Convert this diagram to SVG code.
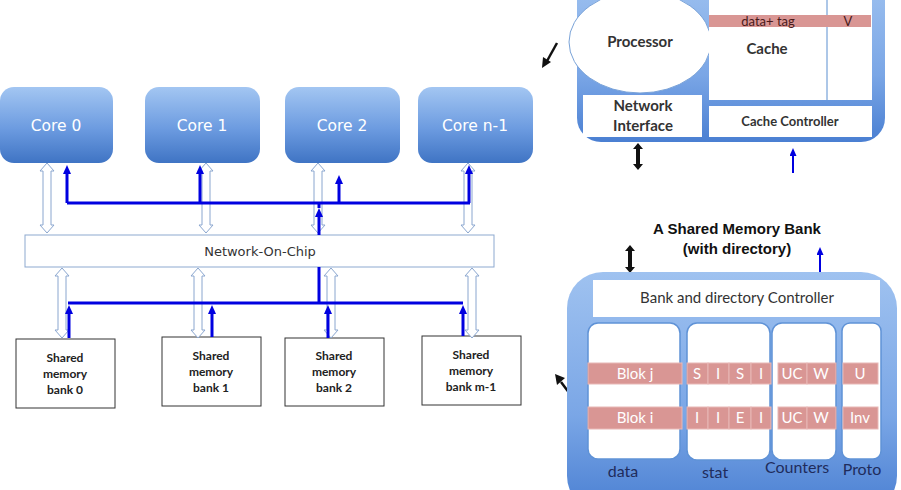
<svg xmlns="http://www.w3.org/2000/svg" width="901" height="490" viewBox="0 0 901 490">
<defs>
  <linearGradient id="gCore" x1="0" y1="0" x2="0" y2="1">
    <stop offset="0" stop-color="#a3c6f2"/>
    <stop offset="0.55" stop-color="#6c9be0"/>
    <stop offset="1" stop-color="#3f74c4"/>
  </linearGradient>
  <linearGradient id="gTile" x1="0" y1="0" x2="0" y2="1">
    <stop offset="0" stop-color="#9fc2f0"/>
    <stop offset="0.6" stop-color="#7aa6e6"/>
    <stop offset="1" stop-color="#4a7fd2"/>
  </linearGradient>
  <path id="hollow" d="M0,0 l7,8 h-3 v54 h3 l-7,8 l-7,-8 h3 v-54 h-3 z" fill="#fff" stroke="#8aa6cf" stroke-width="1"/>
  <marker id="bh" markerWidth="9" markerHeight="8" refX="1" refY="4" orient="auto" markerUnits="userSpaceOnUse">
    <path d="M0,0 L9,4 L0,8 z" fill="#0000e0"/>
  </marker>
  <marker id="bh2" markerWidth="8" markerHeight="7" refX="1" refY="3.5" orient="auto" markerUnits="userSpaceOnUse">
    <path d="M0,0 L8,3.5 L0,7 z" fill="#0000e0"/>
  </marker>
</defs>
<style>
  .core rect{fill:url(#gCore);}
  .core text{font-family:"DejaVu Sans",Verdana,sans-serif;font-size:15.5px;fill:#fff;text-anchor:middle;}
  .bank rect{fill:#fff;stroke:#333;stroke-width:1;}
  .bank text{font-family:Lato,"Open Sans",sans-serif;font-weight:bold;font-size:12px;fill:#222;text-anchor:middle;}
  .blue{stroke:#0000e0;stroke-width:3;fill:none;}
  .pink{fill:#d99694;stroke:#e8b8b6;stroke-width:1;}
  .ptxt{font-family:Lato,"Open Sans",sans-serif;font-size:15px;fill:#fff;text-anchor:middle;}
  .lbl{font-family:Lato,"Open Sans",sans-serif;font-size:16px;fill:#1f2c5c;text-anchor:middle;}
  .col{fill:#fff;stroke:#5f92d6;stroke-width:1.5;}
  .bt{font-family:Lato,"Open Sans",sans-serif;font-weight:bold;fill:#333;text-anchor:middle;}
</style>

<g id="core0" class="core"><rect x="0" y="87" width="113" height="76" rx="14"/><text x="56" y="131">Core 0</text></g>
<g id="core1" class="core"><rect x="145" y="87" width="115" height="76" rx="14"/><text x="202" y="131">Core 1</text></g>
<g id="core2" class="core"><rect x="285" y="87" width="115" height="76" rx="14"/><text x="342" y="131">Core 2</text></g>
<g id="coren" class="core"><rect x="418" y="87" width="115" height="76" rx="14"/><text x="475" y="131">Core n-1</text></g>

<g id="noc"><rect x="25" y="235" width="469" height="32" fill="#fff" stroke="#8da9d0" stroke-width="1"/>
<text x="260" y="256" font-family="'DejaVu Sans',Verdana,sans-serif" font-size="13" fill="#333" text-anchor="middle">Network-On-Chip</text></g>

<g id="bank0" class="bank"><rect x="16" y="339" width="99" height="69"/><text x="65" y="362">Shared</text><text x="65" y="378">memory</text><text x="65" y="394">bank 0</text></g>
<g id="bank1" class="bank"><rect x="162" y="337" width="99" height="69"/><text x="211" y="360">Shared</text><text x="211" y="376">memory</text><text x="211" y="392">bank 1</text></g>
<g id="bank2" class="bank"><rect x="285" y="338" width="99" height="68"/><text x="334" y="360">Shared</text><text x="334" y="376">memory</text><text x="334" y="392">bank 2</text></g>
<g id="bankm" class="bank"><rect x="422" y="336" width="99" height="69"/><text x="471" y="359">Shared</text><text x="471" y="375">memory</text><text x="471" y="391">bank m-1</text></g>

<g id="connectors">
  <use href="#hollow" x="47" y="163"/>
  <use href="#hollow" x="206" y="163"/>
  <use href="#hollow" x="318" y="163"/>
  <use href="#hollow" x="468" y="163"/>
  <use href="#hollow" x="62" y="268"/>
  <use href="#hollow" x="198" y="268"/>
  <use href="#hollow" x="331" y="268"/>
  <use href="#hollow" x="472" y="268"/>
  <path class="blue" d="M67,203 H470"/>
  <path class="blue" d="M67,203 V173" marker-end="url(#bh)"/>
  <path class="blue" d="M200,203 V173" marker-end="url(#bh)"/>
  <path class="blue" d="M339,203 V183" marker-end="url(#bh)"/>
  <path class="blue" d="M469,203 V173" marker-end="url(#bh)"/>
  <path class="blue" d="M319,235 V216" marker-end="url(#bh)"/>
  <path class="blue" d="M319,208 V203"/>
  <path class="blue" d="M68,303 H463"/>
  <path class="blue" d="M319,267 V303"/>
  <path class="blue" d="M69,338 V313" marker-end="url(#bh)"/>
  <path class="blue" d="M212,337 V313" marker-end="url(#bh)"/>
  <path class="blue" d="M328,338 V313" marker-end="url(#bh)"/>
  <path class="blue" d="M463,336 V313" marker-end="url(#bh)"/>
  <path d="M557,43 L547,61" stroke="#111" stroke-width="2.5" fill="none"/>
  <path d="M542,68 L543,57 L551,62 z" fill="#111"/>
  <path d="M573,398 L561,382" stroke="#111" stroke-width="2.5" fill="none"/>
  <path d="M555,374 L565,378 L557,385 z" fill="#111"/>
</g>

<g id="tile">
  <rect x="577" y="-25" width="308" height="167" rx="24" fill="url(#gTile)"/>
  <ellipse cx="640" cy="42" rx="71" ry="51" fill="#fff" stroke="#7aa3d8" stroke-width="1"/>
  <text class="bt" x="640" y="47" font-size="15">Processor</text>
  <rect x="709" y="-5" width="163" height="105" fill="#fff"/>
  <path d="M827,-5 V100" stroke="#5b8fd0" stroke-width="1"/>
  <rect x="709" y="15" width="162" height="12" fill="#d99694"/>
  <text x="768" y="25.5" font-family="Lato,'Open Sans',sans-serif" font-size="13" fill="#4a1a1a" text-anchor="middle">data+ tag</text>
  <text x="848" y="25.5" font-family="Lato,'Open Sans',sans-serif" font-size="13" fill="#4a1a1a" text-anchor="middle">V</text>
  <text class="bt" x="767" y="54" font-size="15">Cache</text>
  <rect x="583" y="95" width="119" height="42" fill="#fff"/>
  <text class="bt" x="643" y="111" font-size="15">Network</text>
  <text class="bt" x="643" y="131" font-size="15">Interface</text>
  <rect x="709" y="106" width="163" height="31" fill="#fff"/>
  <text class="bt" x="790" y="126" font-size="13">Cache Controller</text>
  <path d="M638,143 l5,6 h-3 v15 h3 l-5,6 l-5,-6 h3 v-15 h-3 z" fill="#111"/>
  <path d="M793,173 V155" stroke="#0000e0" stroke-width="2" marker-end="url(#bh2)"/>
</g>

<g id="membank">
  <text x="737" y="234" font-family="'Liberation Sans',Arial,sans-serif" font-weight="bold" font-size="15" fill="#111" text-anchor="middle">A Shared Memory Bank</text>
  <text x="737" y="254" font-family="'Liberation Sans',Arial,sans-serif" font-weight="bold" font-size="15" fill="#111" text-anchor="middle">(with directory)</text>
  <path d="M630,245 l5,6 h-3 v16 h3 l-5,6 l-5,-6 h3 v-16 h-3 z" fill="#111"/>
  <path d="M820,275 V254" stroke="#0000e0" stroke-width="2" marker-end="url(#bh2)"/>
  <rect x="567" y="272" width="330" height="240" rx="36" fill="url(#gTile)"/>
  <rect x="593" y="280" width="287" height="37" fill="#fff"/>
  <text x="737" y="303" font-family="Lato,'Open Sans',sans-serif" font-size="15" fill="#333" text-anchor="middle">Bank and directory Controller</text>
  <rect class="col" x="588" y="323" width="92" height="136" rx="10"/>
  <rect class="col" x="687" y="323" width="83" height="137" rx="10"/>
  <rect class="col" x="772" y="323" width="64" height="137" rx="10"/>
  <rect class="col" x="842" y="323" width="39" height="136" rx="8"/>
  <rect class="pink" x="588" y="363" width="94" height="21"/>
  <rect class="pink" x="588" y="407" width="94" height="22"/>
  <text class="ptxt" x="635" y="379">Blok j</text>
  <text class="ptxt" x="635" y="423">Blok i</text>
  <rect class="pink" x="687" y="363" width="21" height="21"/><rect class="pink" x="708" y="363" width="21" height="21"/><rect class="pink" x="729" y="363" width="22" height="21"/><rect class="pink" x="751" y="363" width="20" height="21"/>
  <rect class="pink" x="687" y="407" width="21" height="22"/><rect class="pink" x="708" y="407" width="21" height="22"/><rect class="pink" x="729" y="407" width="22" height="22"/><rect class="pink" x="751" y="407" width="20" height="22"/>
  <text class="ptxt" x="697" y="379">S</text><text class="ptxt" x="718" y="379">I</text><text class="ptxt" x="740" y="379">S</text><text class="ptxt" x="761" y="379">I</text>
  <text class="ptxt" x="697" y="423">I</text><text class="ptxt" x="718" y="423">I</text><text class="ptxt" x="740" y="423">E</text><text class="ptxt" x="761" y="423">I</text>
  <rect class="pink" x="778" y="363" width="29" height="21"/><rect class="pink" x="807" y="363" width="29" height="21"/>
  <rect class="pink" x="778" y="407" width="29" height="22"/><rect class="pink" x="807" y="407" width="29" height="22"/>
  <text class="ptxt" x="792" y="379">UC</text><text class="ptxt" x="821" y="379">W</text>
  <text class="ptxt" x="792" y="423">UC</text><text class="ptxt" x="821" y="423">W</text>
  <rect class="pink" x="843" y="363" width="35" height="21"/><rect class="pink" x="843" y="407" width="35" height="22"/>
  <text class="ptxt" x="860" y="379">U</text><text class="ptxt" x="860" y="423">Inv</text>
  <text class="lbl" x="623" y="477">data</text>
  <text class="lbl" x="715" y="478">stat</text>
  <text class="lbl" x="797" y="473">Counters</text>
  <text class="lbl" x="862" y="475">Proto</text>
</g>
</svg>
